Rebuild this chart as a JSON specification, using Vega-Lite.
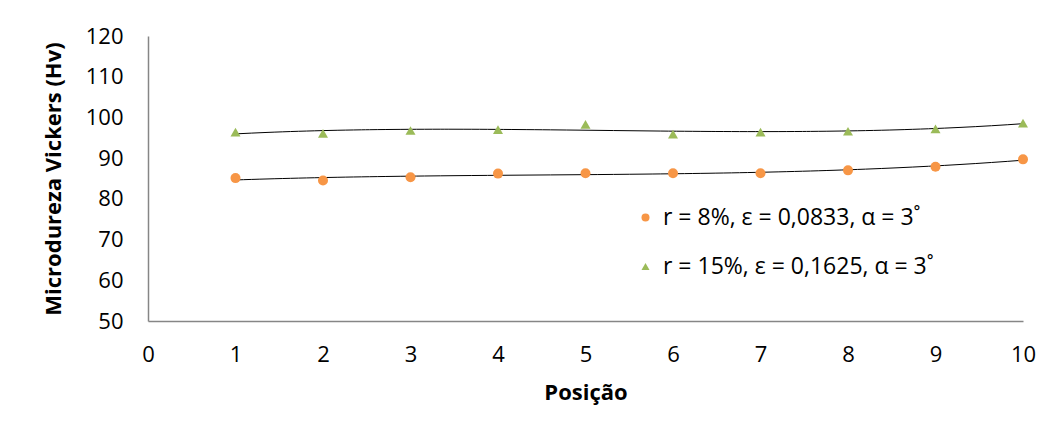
{
  "$schema": "https://vega.github.io/schema/vega-lite/v6.json",
  "width": 875,
  "height": 285,
  "autosize": {"type": "none"},
  "padding": {"left": 148, "top": 36, "right": 34, "bottom": 120},
  "background": "white",
  "config": {
    "view": {"stroke": null},
    "font": "Open Sans",
    "axis": {
      "grid": false,
      "ticks": false,
      "domainColor": "#868686",
      "domainWidth": 1.5,
      "labelFont": "Open Sans",
      "labelFontSize": 22,
      "labelColor": "#000000",
      "titleFont": "Open Sans",
      "titleFontSize": 22,
      "titleFontWeight": "bold",
      "titleColor": "#000000"
    },
    "legend": {
      "labelFont": "Open Sans",
      "labelFontSize": 23,
      "labelColor": "#000000",
      "labelLimit": 0
    }
  },
  "data": {
    "values": [
      {"pos": 1, "hv": 85.1, "serie": "r = 8%, ε = 0,0833, α = 3˚"},
      {"pos": 2, "hv": 84.5, "serie": "r = 8%, ε = 0,0833, α = 3˚"},
      {"pos": 3, "hv": 85.3, "serie": "r = 8%, ε = 0,0833, α = 3˚"},
      {"pos": 4, "hv": 86.2, "serie": "r = 8%, ε = 0,0833, α = 3˚"},
      {"pos": 5, "hv": 86.3, "serie": "r = 8%, ε = 0,0833, α = 3˚"},
      {"pos": 6, "hv": 86.3, "serie": "r = 8%, ε = 0,0833, α = 3˚"},
      {"pos": 7, "hv": 86.3, "serie": "r = 8%, ε = 0,0833, α = 3˚"},
      {"pos": 8, "hv": 87.0, "serie": "r = 8%, ε = 0,0833, α = 3˚"},
      {"pos": 9, "hv": 87.9, "serie": "r = 8%, ε = 0,0833, α = 3˚"},
      {"pos": 10, "hv": 89.7, "serie": "r = 8%, ε = 0,0833, α = 3˚"},
      {"pos": 1, "hv": 96.4, "serie": "r = 15%, ε = 0,1625, α = 3˚"},
      {"pos": 2, "hv": 96.1, "serie": "r = 15%, ε = 0,1625, α = 3˚"},
      {"pos": 3, "hv": 96.8, "serie": "r = 15%, ε = 0,1625, α = 3˚"},
      {"pos": 4, "hv": 97.0, "serie": "r = 15%, ε = 0,1625, α = 3˚"},
      {"pos": 5, "hv": 98.3, "serie": "r = 15%, ε = 0,1625, α = 3˚"},
      {"pos": 6, "hv": 95.9, "serie": "r = 15%, ε = 0,1625, α = 3˚"},
      {"pos": 7, "hv": 96.4, "serie": "r = 15%, ε = 0,1625, α = 3˚"},
      {"pos": 8, "hv": 96.6, "serie": "r = 15%, ε = 0,1625, α = 3˚"},
      {"pos": 9, "hv": 97.2, "serie": "r = 15%, ε = 0,1625, α = 3˚"},
      {"pos": 10, "hv": 98.6, "serie": "r = 15%, ε = 0,1625, α = 3˚"}
    ]
  },
  "encoding": {
    "x": {
      "field": "pos",
      "type": "quantitative",
      "title": "Posição",
      "scale": {"domain": [0, 10], "nice": false},
      "axis": {"values": [0, 1, 2, 3, 4, 5, 6, 7, 8, 9, 10], "labelPadding": 23, "titlePadding": 17, "labelFlush": false}
    },
    "y": {
      "field": "hv",
      "type": "quantitative",
      "title": "Microdureza Vickers (Hv)",
      "scale": {"domain": [50, 120], "nice": false, "zero": false},
      "axis": {"values": [50, 60, 70, 80, 90, 100, 110, 120], "labelPadding": 25, "titlePadding": 20}
    }
  },
  "layer": [
    {
      "transform": [
        {"regression": "hv", "on": "pos", "groupby": ["serie"], "method": "poly", "order": 3}
      ],
      "mark": {"type": "line", "color": "#000000", "strokeWidth": 1},
      "encoding": {
        "detail": {"field": "serie", "type": "nominal"}
      }
    },
    {
      "mark": {"type": "point", "filled": true, "opacity": 1, "size": 100},
      "encoding": {
        "color": {
          "field": "serie",
          "type": "nominal",
          "scale": {
            "domain": ["r = 8%, ε = 0,0833, α = 3˚", "r = 15%, ε = 0,1625, α = 3˚"],
            "range": ["#F79646", "#9BBB59"]
          },
          "legend": {
            "title": null,
            "orient": "none",
            "legendX": 486,
            "legendY": 170,
            "padding": 0,
            "rowPadding": 25,
            "labelOffset": 6,
            "symbolSize": 64
          }
        },
        "shape": {
          "field": "serie",
          "type": "nominal",
          "scale": {
            "domain": ["r = 8%, ε = 0,0833, α = 3˚", "r = 15%, ε = 0,1625, α = 3˚"],
            "range": ["circle", "triangle-up"]
          }
        }
      }
    }
  ]
}
